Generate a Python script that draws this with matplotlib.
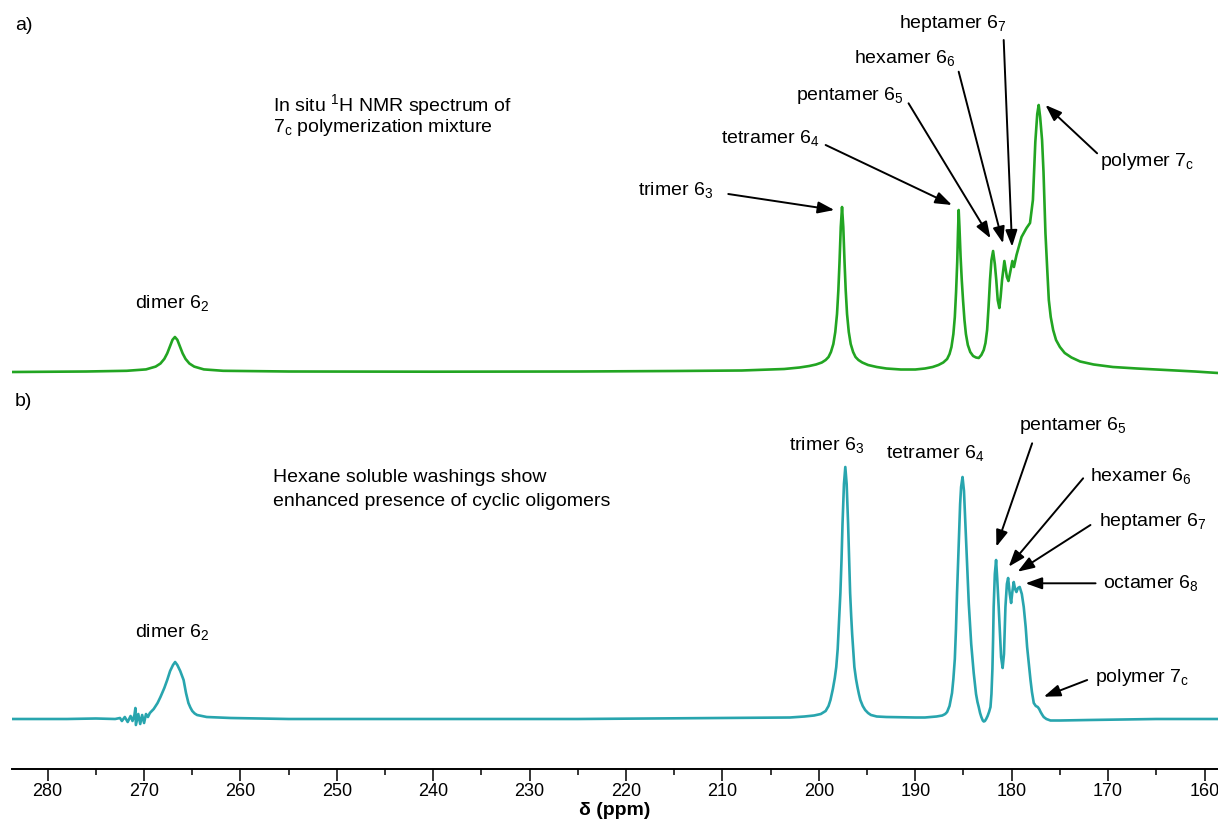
import numpy as np
import matplotlib.pyplot as plt
from matplotlib.ticker import MultipleLocator

plt.rcParams['font.family'] = ['Liberation Sans', 'DejaVu Sans']
plt.rcParams['mathtext.fontset'] = 'custom'
plt.rcParams['mathtext.rm'] = 'Liberation Sans'
plt.rcParams['mathtext.it'] = 'Liberation Sans:italic'
plt.rcParams['mathtext.bf'] = 'Liberation Sans:bold'

# a) in situ polymerization mixture (ppm, intensity a.u.)
ppm_a = [283.7, 276, 271.8, 269.8, 268.8, 268.3, 267.9, 267.6, 267.3, 267.05,
         266.8, 266.55, 266.3, 266.0, 265.7, 265.3, 264.8, 263.8, 261.8, 255,
         240, 225, 215, 208, 203.6, 202.0, 201.0, 200.3, 199.7, 199.3,
         199.0, 198.75, 198.5, 198.3, 198.12, 197.98, 197.86, 197.73, 197.6, 197.47,
         197.34, 197.22, 197.08, 196.9, 196.7, 196.45, 196.2, 195.9, 195.5, 194.9,
         194.0, 193.0, 191.5, 190.0, 189.0, 188.2, 187.6, 187.1, 186.7, 186.45,
         186.25, 186.05, 185.9, 185.77, 185.65, 185.57, 185.5, 185.42, 185.3, 185.18,
         185.05, 184.9, 184.75, 184.55, 184.3, 184.0, 183.7, 183.42, 183.15, 182.9,
         182.72, 182.55, 182.4, 182.25, 182.1, 181.93, 181.75, 181.6, 181.45, 181.28,
         181.15, 181.0, 180.76, 180.5, 180.34, 180.15, 179.93, 179.77, 179.5, 178.98,
         178.46, 178.1, 177.8, 177.55, 177.35, 177.2, 177.05, 176.85, 176.7, 176.5,
         176.3, 176.15, 175.95, 175.7, 175.4, 175.0, 174.5, 173.8, 172.9, 171.5,
         169.5, 167, 164, 161, 158.6]
int_a = [0, 0.5, 1.2, 2.6, 5.4, 8.5, 13.1, 18.6, 26, 32.2,
         35, 32.2, 26, 18.6, 13.1, 8.5, 5.4, 2.6, 1.2, 0.5,
         0.3, 0.5, 1, 1.5, 3, 4.5, 6, 7.5, 9.5, 12,
         15, 20, 28, 40, 58, 82, 110, 145, 165, 145,
         110, 82, 58, 40, 28, 20, 15, 12, 9.5, 7,
         5, 3.5, 2.5, 2.5, 3.5, 5, 7, 9.5, 13, 18,
         25, 38, 55, 80, 110, 140, 162, 145, 115, 92,
         72, 52, 38, 27, 20, 16, 14.5, 14, 17, 22,
         29, 42, 65, 92, 112, 121, 108, 92, 72, 64,
         75, 92, 111, 95, 91, 100, 111, 105, 117, 135,
         144, 149, 172, 230, 258, 267, 255, 232, 200, 139,
         100, 72, 55, 42, 32, 25, 19, 14.5, 10.5, 7.5,
         5, 3.5, 2, 0.5, -1]

# b) hexane soluble washings
ppm_b = [283.7, 278, 275, 273, 272.5, 272.3, 272.0, 271.7, 271.4, 271.2,
         271.0, 270.9, 270.85, 270.6, 270.4, 270.2, 270.0, 269.8, 269.6, 269.4,
         269.0, 268.6, 268.3, 267.9, 267.6, 267.3, 267.0, 266.78, 266.55, 266.25,
         265.9, 265.65, 265.4, 265.2, 265.0, 264.75, 264.5, 263.5, 261, 255,
         240, 225, 210, 203, 201.5, 200.5, 199.8, 199.3, 199.0, 198.8,
         198.55, 198.35, 198.2, 198.05, 197.95, 197.85, 197.77, 197.65, 197.55, 197.4,
         197.26, 197.12, 196.97, 196.86, 196.76, 196.65, 196.55, 196.43, 196.32, 196.15,
         196.0, 195.85, 195.7, 195.45, 195.2, 194.9, 194.6, 194.0, 193, 190,
         189, 187.8, 187.2, 186.9, 186.7, 186.45, 186.19, 186.05, 185.9, 185.78,
         185.67, 185.55, 185.45, 185.35, 185.25, 185.1, 184.95, 184.85, 184.75, 184.6,
         184.45, 184.3, 184.2, 184.05, 183.94, 183.8, 183.7, 183.55, 183.42, 183.28,
         183.15, 183.0, 182.9, 182.78, 182.65, 182.5, 182.35, 182.2, 182.1, 182.0,
         181.93, 181.87, 181.75, 181.62, 181.5, 181.35, 181.1, 180.94, 180.8, 180.65,
         180.5, 180.37, 180.2, 180.06, 179.92, 179.79, 179.65, 179.51, 179.35, 179.17,
         178.95, 178.75, 178.55, 178.4, 178.2, 178.05, 177.9, 177.71, 177.5, 177.3,
         177.15, 177.0, 176.85, 176.68, 176.4, 175.98, 175, 172, 165, 158.6]
int_b = [0, 0, 0.5, 0, 1, -2, 2, -3, 3, -2,
         4, 11, -6, 5, -5, 4, -4, 5, 2, 6,
         10, 16, 22, 31, 39, 48, 54, 57, 54, 48,
         39, 26, 16, 11.5, 8, 5.5, 4, 2, 1, 0,
         0, 0, 1, 1.5, 2.5, 3.5, 5, 8, 13, 19,
         30, 41, 52, 70, 90, 108, 126, 160, 195, 235,
         252, 235, 195, 160, 126, 103, 85, 67, 52, 40,
         32, 25, 19, 13, 9, 6, 4, 2.5, 2, 1.5,
         1.5, 2.5, 3.5, 5, 7, 13, 26, 40, 60, 90,
         126, 160, 190, 215, 232, 242, 228, 205, 180, 145,
         115, 90, 75, 58, 46, 34, 25, 17, 12, 6,
         2, -1.5, -2.5, -2, 0, 3, 7, 12, 25, 50,
         80, 112, 145, 159, 140, 112, 62, 51, 65, 112,
         135, 141, 125, 116, 128, 137, 130, 127, 131, 132,
         125, 112, 92, 72, 53, 39, 27, 16, 13, 12,
         10, 7, 4.5, 2, 0, -1.5, -1.5, -1, 0, 0]

shift_a = 347
green = '#22a522'
teal = '#28a5ae'

fig = plt.figure(figsize=(12.18, 8.23), dpi=100)
ax = fig.add_axes([12 / 1218, 1 - 768.6 / 823, 1206 / 1218, 768.6 / 823])
ax.plot(ppm_a, np.array(int_a) + shift_a, color=green, lw=1.9)
ax.plot(ppm_b, int_b, color=teal, lw=1.9)

ax.set_xlim(283.7, 158.6)
ax.set_ylim(-49.6, 719)
for s in ['left', 'right', 'top']:
    ax.spines[s].set_visible(False)
ax.spines['bottom'].set_linewidth(1.4)
ax.set_yticks([])
ax.xaxis.set_major_locator(MultipleLocator(10))
ax.xaxis.set_minor_locator(MultipleLocator(5))
ax.tick_params(axis='x', which='major', length=8.6, width=1.1, labelsize=13, pad=2)
ax.tick_params(axis='x', which='minor', length=4.3, width=1.1)
ax.set_xlabel('δ (ppm)', fontsize=14, fontweight='bold', labelpad=1)

fig.text(15 / 1218, 1 - 25 / 823, 'a)', fontsize=14, va='center')
fig.text(15 / 1218, 1 - 402 / 823, 'b)', fontsize=14, va='center')

labels = [
    (256.6, 614, 'In situ $^1$H NMR spectrum of', 'left'),
    (256.6, 591, '7$_\\mathrm{c}$ polymerization mixture', 'left'),
    (267.1, 416, 'dimer 6$_2$', 'center'),
    (211.0, 529, 'trimer 6$_3$', 'right'),
    (200.0, 581, 'tetramer 6$_4$', 'right'),
    (191.2, 624, 'pentamer 6$_5$', 'right'),
    (185.84, 661, 'hexamer 6$_6$', 'right'),
    (180.55, 696, 'heptamer 6$_7$', 'right'),
    (170.86, 557, 'polymer 7$_\\mathrm{c}$', 'left'),
    (256.6, 242, 'Hexane soluble washings show', 'left'),
    (256.6, 218, 'enhanced presence of cyclic oligomers', 'left'),
    (267.1, 87, 'dimer 6$_2$', 'center'),
    (199.2, 274, 'trimer 6$_3$', 'center'),
    (187.9, 266, 'tetramer 6$_4$', 'center'),
    (179.2, 293, 'pentamer 6$_5$', 'left'),
    (171.83, 243, 'hexamer 6$_6$', 'left'),
    (170.9, 197, 'heptamer 6$_7$', 'left'),
    (170.5, 136, 'octamer 6$_8$', 'left'),
    (171.31, 42, 'polymer 7$_\\mathrm{c}$', 'left'),
]
for x, y, s, ha in labels:
    ax.text(x, y, s, fontsize=14, ha=ha, va='center')

arrows = [
    ((209.4, 525), (198.4, 509)),
    ((199.3, 574), (186.2, 514)),
    ((190.7, 615.7), (182.2, 480.7)),
    ((185.5, 647.3), (180.9, 475.7)),
    ((180.83, 679), (179.96, 472.3)),
    ((171.14, 565.7), (176.5, 614)),
    ((177.88, 275.7), (181.59, 172.3)),
    ((172.59, 240.7), (180.31, 152.3)),
    ((171.83, 194), (179.38, 147.3)),
    ((171.3, 135.7), (178.57, 135.7)),
    ((172.17, 39), (176.67, 22.3)),
]
for tail, head in arrows:
    ax.annotate('', xy=head, xytext=tail,
                arrowprops=dict(arrowstyle='-|>,head_length=0.5,head_width=0.18',
                                color='black', lw=1.4, mutation_scale=20,
                                shrinkA=0, shrinkB=0))

fig.savefig('out.png', dpi=100)
